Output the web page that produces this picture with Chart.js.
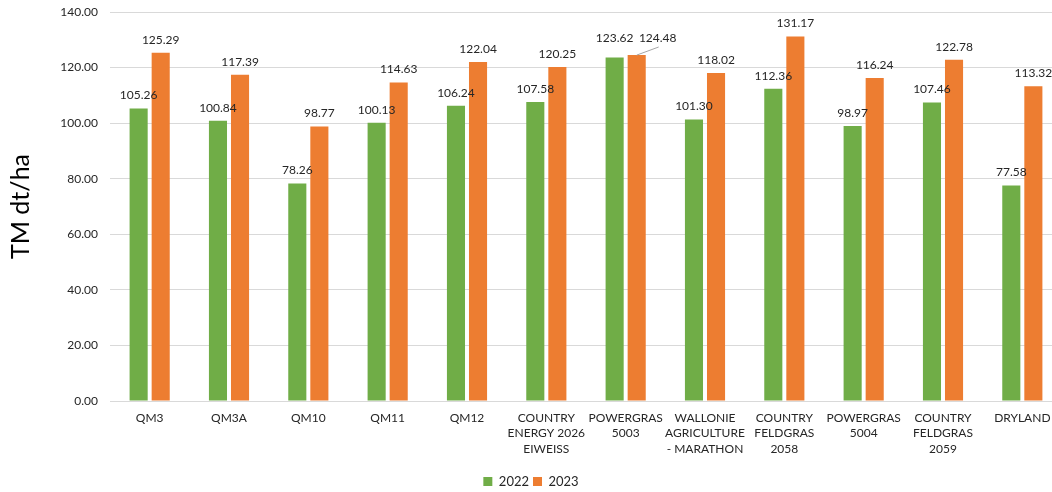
<!DOCTYPE html>
<html>
<head>
<meta charset="utf-8">
<script src="https://cdn.jsdelivr.net/npm/chart.js@4"></script>
<style>
  html, body { margin: 0; padding: 0; background: #fff; overflow: hidden; }
  #wrap { position: relative; width: 1062px; height: 492px; }
</style>
</head>
<body>
<div id="wrap"><canvas id="myChart"></canvas></div>
<script>
var categories = [
  'QM3', 'QM3A', 'QM10', 'QM11', 'QM12',
  ['COUNTRY', 'ENERGY 2026', 'EIWEISS'],
  ['POWERGRAS', '5003'],
  ['WALLONIE', 'AGRICULTURE', '- MARATHON'],
  ['COUNTRY', 'FELDGRAS', '2058'],
  ['POWERGRAS', '5004'],
  ['COUNTRY', 'FELDGRAS', '2059'],
  'DRYLAND'
];
var values2022 = [105.26, 100.84, 78.26, 100.13, 106.24, 107.58, 123.62, 101.30, 112.36, 98.97, 107.46, 77.58];
var values2023 = [125.29, 117.39, 98.77, 114.63, 122.04, 120.25, 124.48, 118.02, 131.17, 116.24, 122.78, 113.32];
var seriesNames = ['2022', '2023'];

var FONT = 'Lato, "Open Sans", sans-serif';

// value labels above the bars, like excel data labels
var barLabels = {
  id: 'barLabels',
  afterDatasetsDraw: function (chart) {
    var ctx = chart.ctx;
    ctx.save();
    ctx.font = '12px ' + FONT;
    ctx.fillStyle = '#262626';
    ctx.textAlign = 'center';
    ctx.textBaseline = 'bottom';
    chart.data.datasets.forEach(function (ds, di) {
      var meta = chart.getDatasetMeta(di);
      meta.data.forEach(function (bar, i) {
        var txt = ds.data[i].toFixed(2);
        var x = bar.x, y = bar.y - 7;
        // POWERGRAS 5003: labels were moved apart in the original
        if (i === 6) {
          y = 44;
          if (di === 1) {
            x = bar.x + 21;
            ctx.strokeStyle = '#a6a6a6';
            ctx.lineWidth = 1;
            ctx.beginPath();
            ctx.moveTo(bar.x, bar.y);
            ctx.lineTo(x + 1, y + 3);
            ctx.stroke();
          }
        }
        ctx.fillText(txt, x, y);
      });
    });
    ctx.restore();
  }
};

var ctx = document.getElementById('myChart').getContext('2d');
var chart = new Chart(ctx, {
  type: 'bar',
  data: {
    labels: categories,
    datasets: [{
      label: seriesNames[0],
      data: values2022,
      backgroundColor: '#70ad47',
      categoryPercentage: 0.556,
      barPercentage: 0.82
    }, {
      label: seriesNames[1],
      data: values2023,
      backgroundColor: '#ed7d31',
      categoryPercentage: 0.556,
      barPercentage: 0.82
    }]
  },
  options: {
    responsive: true,
    maintainAspectRatio: false,
    animation: false,
    layout: { padding: { top: 12, right: 0, left: 0, bottom: -6 } },
    plugins: {
      legend: {
        position: 'bottom',
        labels: {
          boxWidth: 9,
          boxHeight: 9,
          padding: 4,
          color: '#262626',
          font: { family: FONT, size: 13 }
        }
      },
      tooltip: { enabled: false }
    },
    scales: {
      x: {
        grid: { display: false, drawTicks: false },
        border: { color: '#d9d9d9' },
        ticks: {
          color: '#262626',
          font: { family: FONT, size: 12, lineHeight: 1.3 },
          maxRotation: 0,
          autoSkip: false,
          padding: 9
        },
        afterFit: function (scale) { scale.height = 70; }
      },
      y: {
        min: 0,
        max: 140,
        grid: { color: '#d9d9d9', drawTicks: false },
        border: { display: false },
        ticks: {
          stepSize: 20,
          color: '#262626',
          font: { family: FONT, size: 12 },
          padding: 12,
          callback: function (v) { return v.toFixed(2); }
        },
        title: {
          display: true,
          text: 'TM dt/ha',
          color: '#000',
          font: { family: FONT, size: 25 },
          padding: { top: 6, bottom: 0 }
        },
        afterFit: function (scale) {
          scale.width = 110;
          scale.paddingTop = 7;
          scale.paddingBottom = 7;
        }
      }
    }
  },
  plugins: [barLabels]
});
</script>
</body>
</html>
